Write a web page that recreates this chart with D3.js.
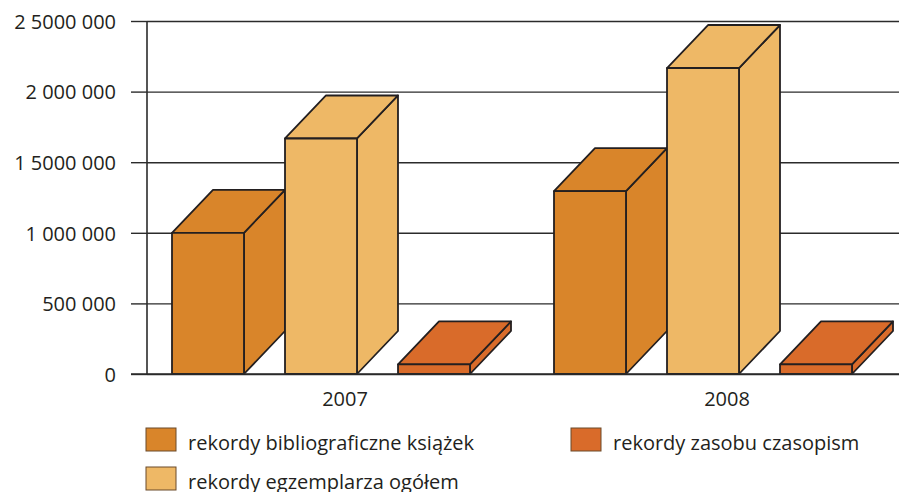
<!DOCTYPE html>
<html>
<head>
<meta charset="utf-8">
<script src="https://cdn.jsdelivr.net/npm/d3@7"></script>
<style>
  body { margin: 0; background: #fff; }
  svg text { font-family: "Open Sans", sans-serif; fill: #231f20; }
</style>
</head>
<body>
<script>
// dane
const years = ["2007", "2008"];
const seriesNames = [
  "rekordy bibliograficzne książek",
  "rekordy egzemplarza ogółem",
  "rekordy zasobu czasopism"
];
const bibliograficzne = [1000000, 1295000];
const egzemplarze = [1668000, 2167000];
const czasopisma = [68000, 68000];
const tickValues = [0, 500000, 1000000, 1500000, 2000000, 2500000];
const tickLabels = ["0", "500 000", "1 000 000", "1 5000 000", "2 000 000", "2 5000 000"];
const colors = ["#d9852a", "#eeb866", "#d96b2a"];

const series = [bibliograficzne, egzemplarze, czasopisma];
const width = 899, height = 492;
const depthX = 41, depthY = 43;

const svg = d3.select("body").append("svg")
  .attr("width", width)
  .attr("height", height);

// skale
const y = d3.scaleLinear().domain([0, 2500000]).range([374, 21]);
const x0 = d3.scaleBand().domain(years).range([147, 911]);
const x1 = d3.scaleBand().domain(d3.range(3)).range([25, 323])
  .paddingInner(0.363).paddingOuter(0);

// linie siatki + os y
const yAxis = svg.append("g")
  .attr("transform", "translate(147,0)")
  .call(d3.axisLeft(y).tickValues(tickValues)
    .tickFormat((d, i) => tickLabels[i])
    .tickSize(16).tickPadding(15));
yAxis.select(".domain").remove();
yAxis.selectAll(".tick line").clone()
  .attr("x2", width);
yAxis.selectAll(".tick line")
  .attr("stroke", "#2b2b2b").attr("stroke-width", 1.4);
yAxis.selectAll(".tick text")
  .style("font-size", "20px").attr("fill", "#231f20").attr("dy", "0.36em");

svg.append("line")
  .attr("x1", 147).attr("x2", 147)
  .attr("y1", y(2500000)).attr("y2", y(0))
  .attr("stroke", "#2b2b2b").attr("stroke-width", 1.6);

// slupki 3D
const bars = [];
years.forEach((yr, i) => {
  series.forEach((s, j) => {
    bars.push({ year: yr, k: j, value: s[i] });
  });
});

const g = svg.append("g")
  .attr("stroke", "#231f20")
  .attr("stroke-width", 1.8)
  .attr("stroke-linejoin", "round");

bars.forEach(d => {
  const xl = x0(d.year) + x1(d.k);
  const xr = xl + x1.bandwidth();
  const yt = y(d.value), yb = y(0);
  const bar = g.append("g").attr("fill", colors[d.k]);
  // bok
  bar.append("path").attr("d",
    `M${xr},${yb}L${xr + depthX},${yb - depthY}L${xr + depthX},${yt - depthY}L${xr},${yt}Z`);
  // gora
  bar.append("path").attr("d",
    `M${xl},${yt}L${xl + depthX},${yt - depthY}L${xr + depthX},${yt - depthY}L${xr},${yt}Z`);
  // przod
  bar.append("rect")
    .attr("x", xl).attr("y", yt)
    .attr("width", xr - xl).attr("height", yb - yt);
});

// os x
svg.append("line")
  .attr("x1", 131).attr("x2", width)
  .attr("y1", y(0)).attr("y2", y(0))
  .attr("stroke", "#2b2b2b").attr("stroke-width", 1.6);

svg.append("g").selectAll("text")
  .data(years)
  .join("text")
  .attr("x", d => x0(d) + 198)
  .attr("y", 406)
  .attr("text-anchor", "middle")
  .style("font-size", "20px")
  .text(d => d);

// legenda
const legendPos = [[146, 428], [146, 467], [571, 428]];
const legend = svg.append("g").selectAll("g")
  .data(seriesNames)
  .join("g")
  .attr("transform", (d, i) => `translate(${legendPos[i][0]},${legendPos[i][1]})`);
legend.append("rect")
  .attr("width", 30).attr("height", 23)
  .attr("fill", (d, i) => colors[i])
  .attr("stroke", "#6b4a2a").attr("stroke-width", 1);
legend.append("text")
  .attr("x", 42).attr("y", 22)
  .style("font-size", "20px")
  .text(d => d);
</script>
</body>
</html>
